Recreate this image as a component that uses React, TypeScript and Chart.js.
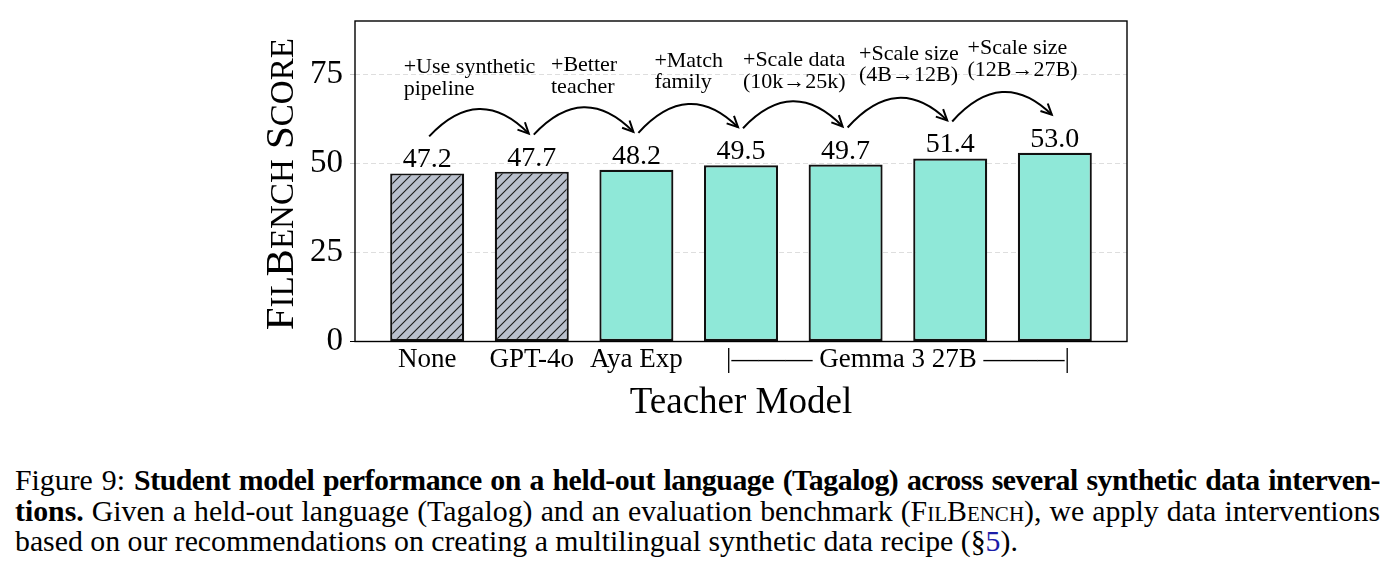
import React, { useEffect, useRef } from 'react';
import { Chart, registerables } from 'chart.js';

Chart.register(...registerables);

// Student model FilBench scores for each teacher / data intervention step
const teachers = ['None', 'GPT-4o', 'Aya Exp', 'Gemma 3 27B', 'Gemma 3 27B', 'Gemma 3 27B', 'Gemma 3 27B'];
const scores = [47.2, 47.7, 48.2, 49.5, 49.7, 51.4, 53.0];

// Intervention applied between consecutive bars
const steps: string[][] = [
  ['+Use synthetic', 'pipeline'],
  ['+Better', 'teacher'],
  ['+Match', 'family'],
  ['+Scale data', '(10k\u219225k)'],
  ['+Scale size', '(4B\u219212B)'],
  ['+Scale size', '(12B\u219227B)'],
];

// Category labels under the axis and where they sit (bar index units)
const tickLabels = ['None', 'GPT-4o', 'Aya Exp', '|\u2014\u2014\u2014 Gemma 3 27B \u2014\u2014\u2014|'];
const tickPositions = [0, 1, 2, 4.5];
const yTickStep = 25;
const yMax = 90;

const SERIF = '"Times New Roman", "Liberation Serif", Times, "Nimbus Roman", serif';
const TEAL = '#8fe8d8';
const SLATE = '#b9c0cd';
const HATCHED_COUNT = 2; // bars without the synthetic pipeline
const NOTE_SHIFT = [-10, 0, 0, 1, 11, 20];

const font = (size: number, weight = 'normal') => `${weight} ${size}px ${SERIF}`;

function makeHatch(): CanvasPattern | string {
  const s = 10;
  const c = document.createElement('canvas');
  c.width = s;
  c.height = s;
  const g = c.getContext('2d');
  if (!g) return SLATE;
  g.fillStyle = SLATE;
  g.fillRect(0, 0, s, s);
  g.strokeStyle = '#1a1a1a';
  g.lineWidth = 1.1;
  g.beginPath();
  g.moveTo(0, s);
  g.lineTo(s, 0);
  g.moveTo(-2, 2);
  g.lineTo(2, -2);
  g.moveTo(s - 2, s + 2);
  g.lineTo(s + 2, s - 2);
  g.stroke();
  return g.createPattern(c, 'repeat') || SLATE;
}

const decorations = {
  id: 'decorations',
  afterDraw(chart: any) {
    const { ctx, chartArea, scales } = chart;
    const xs = scales.x;
    const ys = scales.y;
    ctx.save();

    // plot frame
    ctx.strokeStyle = '#000';
    ctx.lineWidth = 1.4;
    ctx.strokeRect(chartArea.left, chartArea.top, chartArea.right - chartArea.left, chartArea.bottom - chartArea.top);

    ctx.fillStyle = '#000';

    // value labels
    ctx.font = font(28);
    ctx.textAlign = 'center';
    ctx.textBaseline = 'alphabetic';
    scores.forEach((v, i) => {
      ctx.fillText(v.toFixed(1), xs.getPixelForValue(i), ys.getPixelForValue(v) - 6);
    });

    // curved arrows and intervention notes
    steps.forEach((lines, i) => {
      const sx = xs.getPixelForValue(i) + 2;
      const sy = ys.getPixelForValue(scores[i]) - 37;
      const ex = xs.getPixelForValue(i + 1) - 3;
      const ey = ys.getPixelForValue(scores[i + 1]) - 38;
      const cx = (sx + ex) / 2;
      const cy = (sy + ey) / 2 - 52;
      ctx.strokeStyle = '#000';
      ctx.lineWidth = 2;
      ctx.beginPath();
      ctx.moveTo(sx, sy);
      ctx.quadraticCurveTo(cx, cy, ex, ey);
      ctx.stroke();
      const ang = Math.atan2(ey - cy, ex - cx);
      const hl = 12;
      ctx.beginPath();
      ctx.moveTo(ex - hl * Math.cos(ang - 0.45), ey - hl * Math.sin(ang - 0.45));
      ctx.lineTo(ex, ey);
      ctx.lineTo(ex - hl * Math.cos(ang + 0.45), ey - hl * Math.sin(ang + 0.45));
      ctx.stroke();

      ctx.font = font(22);
      ctx.textAlign = 'left';
      const w = Math.max(...lines.map((t) => ctx.measureText(t).width));
      const mid = (xs.getPixelForValue(i) + xs.getPixelForValue(i + 1)) / 2 + NOTE_SHIFT[i];
      const left = mid - w / 2;
      const base2 = ys.getPixelForValue(scores[i + 1]) - 77;
      ctx.fillText(lines[0], left, base2 - 21.7);
      ctx.fillText(lines[1], left, base2);
    });

    // category labels
    ctx.font = font(27);
    ctx.textAlign = 'center';
    tickLabels.forEach((t, i) => {
      ctx.fillText(t, xs.getPixelForValue(tickPositions[i]), chartArea.bottom + 25.5);
    });

    // x axis title
    ctx.font = font(37);
    ctx.fillText('Teacher Model', (chartArea.left + chartArea.right) / 2, chartArea.bottom + 71.5);

    // y axis title in small caps
    const parts: [string, boolean][] = [
      ['F', true], ['IL', false], ['B', true], ['ENCH', false], [' ', true], ['S', true], ['CORE', false],
    ];
    const big = 41;
    const small = 33;
    let total = 0;
    parts.forEach(([t, b]) => {
      ctx.font = font(b ? big : small);
      total += ctx.measureText(t).width;
    });
    ctx.translate(285, (chartArea.top + chartArea.bottom) / 2 + 3);
    ctx.rotate(-Math.PI / 2);
    ctx.textAlign = 'left';
    let px = -total / 2;
    parts.forEach(([t, b]) => {
      ctx.font = font(b ? big : small);
      ctx.fillText(t, px, 0);
      px += ctx.measureText(t).width;
    });
    ctx.restore();
  },
};

function FilBenchChart() {
  const ref = useRef<HTMLCanvasElement | null>(null);
  useEffect(() => {
    if (!ref.current) return;
    const hatch = makeHatch();
    const chart = new Chart(ref.current, {
      type: 'bar',
      data: {
        labels: teachers,
        datasets: [
          {
            label: 'FilBench Score',
            data: scores.map((v, i) => ({ x: i, y: v })),
            backgroundColor: (c: any) => (c.dataIndex < HATCHED_COUNT ? hatch : TEAL),
            borderColor: '#111',
            borderWidth: 2.2,
            borderSkipped: false,
            barPercentage: 0.7075,
            categoryPercentage: 1,
          } as any,
        ],
      },
      options: {
        responsive: false,
        animation: false,
        layout: { padding: { left: 0, top: 13, right: 262, bottom: 96.5 } },
        plugins: { legend: { display: false }, tooltip: { enabled: false } },
        scales: {
          x: {
            type: 'linear',
            min: -0.69,
            max: 6.69,
            offset: false,
            display: false,
            ticks: { stepSize: 1, includeBounds: false },
          } as any,
          y: {
            min: 0,
            max: yMax,
            afterFit: (s: any) => {
              s.width = 347;
              s.paddingTop = 0;
              s.paddingBottom = 0;
            },
            ticks: {
              stepSize: yTickStep,
              includeBounds: false,
              color: '#000',
              padding: 7,
              font: { family: SERIF, size: 33 },
            },
            grid: {
              color: '#dedede',
              lineWidth: 1,
              tickLength: 5,
              tickColor: (c: any) => (c.tick && c.tick.value === 0 ? '#000' : '#c8c8c8'),
            },
            border: { display: false, dash: [5, 3] },
          } as any,
        },
      },
      plugins: [decorations],
    });
    return () => chart.destroy();
  }, []);
  return <canvas ref={ref} width={1381} height={430} style={{ display: 'block' }} />;
}

const justify: React.CSSProperties = { textAlign: 'justify', textAlignLast: 'justify', whiteSpace: 'nowrap' };

export default function App() {
  return (
    <div>
      <FilBenchChart />
      <div
        style={{
          marginTop: 27,
          marginLeft: 7,
          width: 1365,
          fontFamily: SERIF,
          fontSize: 29.8,
          lineHeight: '30.5px',
          color: '#000',
        }}
      >
        <div style={justify}>
          Figure 9:{' '}
          <b style={{ letterSpacing: '-0.45px' }}>
            Student model performance on a held-out language (Tagalog) across several synthetic data interven-
          </b>
        </div>
        <div style={justify}>
          <b>tions.</b> Given a held-out language (Tagalog) and an evaluation benchmark (
          <span style={{ fontVariant: 'small-caps' }}>FilBench</span>), we apply data interventions
        </div>
        <div style={{ whiteSpace: 'nowrap' }}>
          based on our recommendations on creating a multilingual synthetic data recipe (§
          <span style={{ color: '#1c1ca8' }}>5</span>).
        </div>
      </div>
    </div>
  );
}
